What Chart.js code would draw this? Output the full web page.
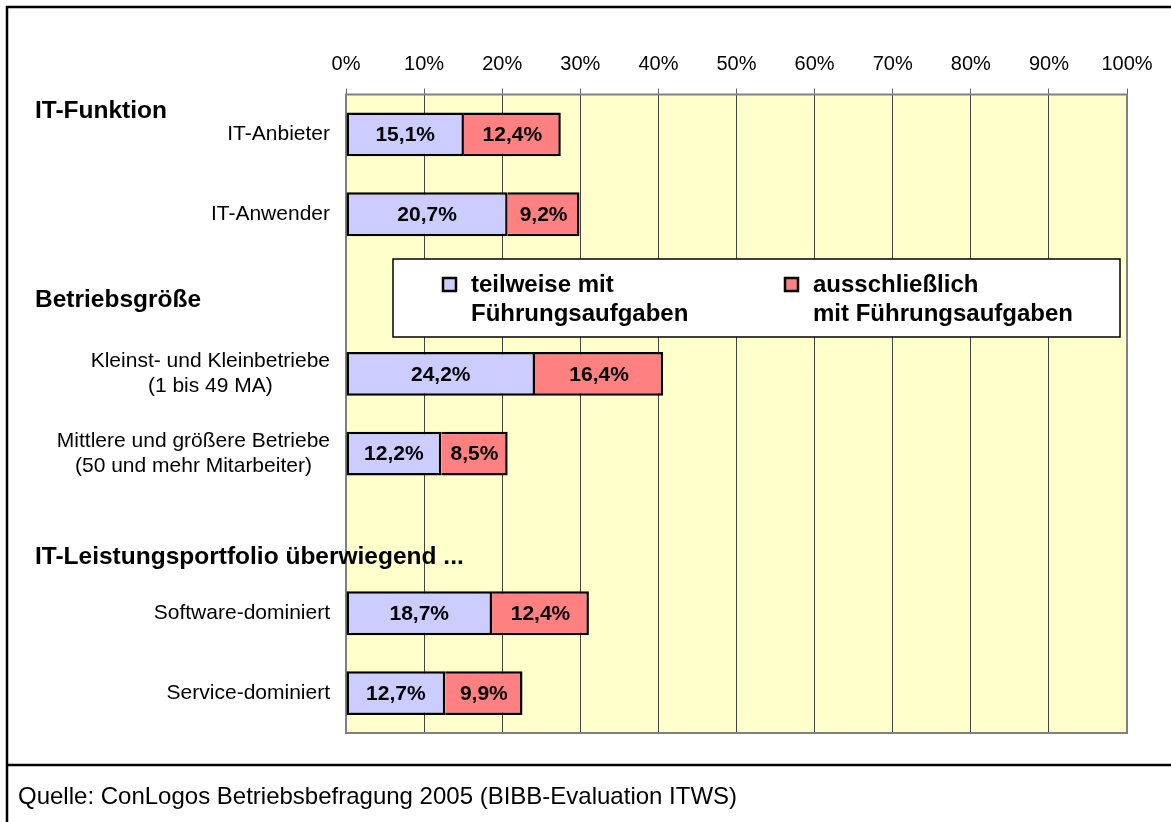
<!DOCTYPE html>
<html>
<head>
<meta charset="utf-8">
<script src="https://cdn.jsdelivr.net/npm/chart.js@4/dist/chart.umd.min.js"></script>
<style>
  body { margin: 0; background: #fff; }
  canvas { display: block; }
</style>
</head>
<body>
<canvas id="chart" width="1171" height="822"></canvas>
<script>
// categories (empty rows leave room for the group headers)
const categories = [
    'IT-Anbieter',
    'IT-Anwender',
    '',
    ['Kleinst- und Kleinbetriebe', '(1 bis 49 MA)'],
    ['Mittlere und größere Betriebe', '(50 und mehr Mitarbeiter)'],
    '',
    'Software-dominiert',
    'Service-dominiert'
];
const teilweise = [15.1, 20.7, null, 24.2, 12.2, null, 18.7, 12.7];
const ausschliesslich = [12.4, 9.2, null, 16.4, 8.5, null, 12.4, 9.9];
const seriesLabels = [
    ['teilweise mit', 'Führungsaufgaben'],
    ['ausschließlich', 'mit Führungsaufgaben']
];
const groupHeaders = ['IT-Funktion', 'Betriebsgröße', 'IT-Leistungsportfolio überwiegend ...'];
const sourceText = 'Quelle: ConLogos Betriebsbefragung 2005 (BIBB-Evaluation ITWS)';

const FONT = '"Liberation Sans", Arial, sans-serif';
Chart.defaults.font.family = FONT;
Chart.defaults.color = '#000';

const fmt = v => v.toFixed(1).replace('.', ',') + '%';

// white page, frame and source line
const framePlugin = {
    id: 'frame',
    beforeDraw(chart) {
        const ctx = chart.ctx;
        const area = chart.chartArea;
        ctx.save();
        ctx.fillStyle = '#fff';
        ctx.fillRect(0, 0, chart.width, chart.height);
        ctx.strokeStyle = '#000';
        ctx.lineWidth = 2.5;
        ctx.beginPath();
        ctx.moveTo(7, chart.height);
        ctx.lineTo(7, 7);
        ctx.lineTo(chart.width, 7);
        ctx.moveTo(7, 765);
        ctx.lineTo(chart.width, 765);
        ctx.stroke();
        // plot background
        ctx.fillStyle = '#FFFFCC';
        ctx.fillRect(area.left, area.top, area.right - area.left, area.bottom - area.top);
        ctx.restore();
    },
    afterDraw(chart) {
        const ctx = chart.ctx;
        ctx.save();
        ctx.fillStyle = '#000';
        ctx.font = '24px ' + FONT;
        ctx.textBaseline = 'middle';
        ctx.textAlign = 'left';
        ctx.fillText(sourceText, 18, 797);
        ctx.restore();
    }
};

// plot border
const plotBorder = {
    id: 'plotBorder',
    beforeDatasetsDraw(chart) {
        const ctx = chart.ctx;
        const a = chart.chartArea;
        ctx.save();
        ctx.strokeStyle = '#808080';
        ctx.lineWidth = 2;
        ctx.strokeRect(a.left, a.top, a.right - a.left, a.bottom - a.top);
        ctx.restore();
    }
};

// category labels: block right aligned, lines centred within block
const categoryLabels = {
    id: 'categoryLabels',
    afterDraw(chart) {
        const ctx = chart.ctx;
        const yScale = chart.scales.y;
        ctx.save();
        ctx.font = '21px ' + FONT;
        ctx.fillStyle = '#000';
        ctx.textAlign = 'center';
        ctx.textBaseline = 'middle';
        categories.forEach((label, i) => {
            const lines = Array.isArray(label) ? label : [label];
            if (!lines[0]) return;
            const w = Math.max(...lines.map(l => ctx.measureText(l).width));
            const cx = chart.chartArea.left - 16 - w / 2;
            const cy = yScale.getPixelForValue(i);
            const lh = 25;
            lines.forEach((l, j) => {
                ctx.fillText(l, cx, cy + (j - (lines.length - 1) / 2) * lh);
            });
        });
        // group headers
        ctx.font = 'bold 24.5px ' + FONT;
        ctx.textAlign = 'left';
        const headerY = [yScale.getPixelForValue(0) - 23, yScale.getPixelForValue(2) + 6, yScale.getPixelForValue(5) + 24];
        groupHeaders.forEach((h, i) => ctx.fillText(h, 35, headerY[i]));
        ctx.restore();
    }
};

// values inside the segments
const valueLabels = {
    id: 'valueLabels',
    afterDatasetsDraw(chart) {
        const ctx = chart.ctx;
        ctx.save();
        ctx.font = 'bold 21px ' + FONT;
        ctx.fillStyle = '#000';
        ctx.textAlign = 'center';
        ctx.textBaseline = 'middle';
        chart.data.datasets.forEach((ds, d) => {
            chart.getDatasetMeta(d).data.forEach((el, i) => {
                const v = ds.data[i];
                if (v == null) return;
                ctx.fillText(fmt(v), (el.x + el.base) / 2, el.y + 1);
            });
        });
        ctx.restore();
    }
};

// legend box inside the plot
const boxLegend = {
    id: 'boxLegend',
    afterDraw(chart) {
        const ctx = chart.ctx;
        const box = { x: 393, y: 259, w: 727, h: 78 };
        ctx.save();
        ctx.fillStyle = '#fff';
        ctx.fillRect(box.x, box.y, box.w, box.h);
        ctx.strokeStyle = '#000';
        ctx.lineWidth = 1.5;
        ctx.strokeRect(box.x, box.y, box.w, box.h);
        const itemX = [443, 785];
        ctx.font = 'bold 24px ' + FONT;
        ctx.textAlign = 'left';
        ctx.textBaseline = 'middle';
        chart.data.datasets.forEach((ds, d) => {
            ctx.fillStyle = ds.backgroundColor;
            ctx.fillRect(itemX[d], 278, 13, 13);
            ctx.strokeStyle = '#000';
            ctx.lineWidth = 2.5;
            ctx.strokeRect(itemX[d], 278, 13, 13);
            ctx.fillStyle = '#000';
            ds.label.forEach((l, j) => ctx.fillText(l, itemX[d] + 28, 285 + j * 29));
        });
        ctx.restore();
    }
};

new Chart(document.getElementById('chart'), {
    type: 'bar',
    data: {
        labels: categories,
        datasets: [{
            label: seriesLabels[0],
            data: teilweise,
            backgroundColor: '#CCCCFF',
            borderColor: '#000',
            borderWidth: 2.5,
            borderSkipped: false,
            barPercentage: 0.55,
            categoryPercentage: 1
        }, {
            label: seriesLabels[1],
            data: ausschliesslich,
            backgroundColor: '#FF8080',
            borderColor: '#000',
            borderWidth: 2.5,
            borderSkipped: 'start',
            barPercentage: 0.55,
            categoryPercentage: 1
        }]
    },
    options: {
        indexAxis: 'y',
        responsive: false,
        animation: false,
        layout: { padding: { left: 346, right: 44, top: 0, bottom: 89 } },
        scales: {
            x: {
                position: 'top',
                stacked: true,
                min: 0,
                max: 100,
                afterFit: s => { s.height = 94.5; },
                ticks: {
                    stepSize: 10,
                    callback: v => v + '%',
                    font: { size: 20 },
                    color: '#000',
                    padding: 12,
                    maxRotation: 0
                },
                grid: { color: '#444', lineWidth: 1, tickLength: 6, tickColor: '#666' },
                border: { display: false }
            },
            y: {
                stacked: true,
                afterFit: s => { s.width = 0; },
                ticks: { display: false },
                grid: { display: false },
                border: { display: false }
            }
        },
        plugins: {
            legend: { display: false },
            tooltip: { enabled: false }
        }
    },
    plugins: [framePlugin, plotBorder, valueLabels, categoryLabels, boxLegend]
});
</script>
</body>
</html>
